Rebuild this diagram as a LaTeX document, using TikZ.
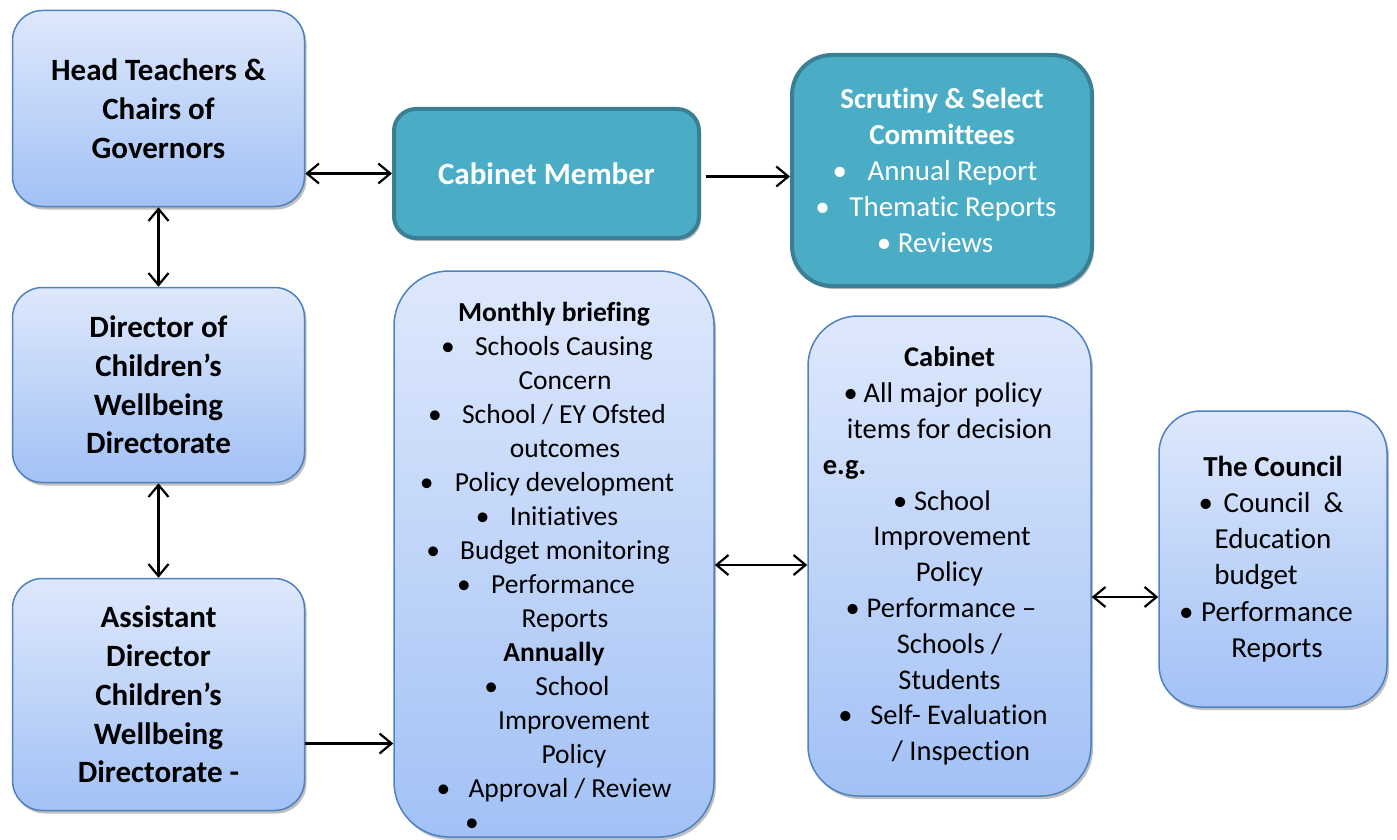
\documentclass[tikz,border=0pt]{standalone}
\usepackage{fontspec}
\setmainfont{Carlito}[Ligatures={NoCommon}]
\usetikzlibrary{arrows.meta,shadows,calc}
\definecolor{btop}{HTML}{DEE8FC}
\definecolor{bbot}{HTML}{A2C1F5}
\definecolor{bborder}{HTML}{4F81BD}
\definecolor{tealfill}{HTML}{4BACC6}
\definecolor{tealborder}{HTML}{3A7F94}
\newcommand\bt[1]{\makebox[#1][l]{\textbullet}}
\newcommand\gap[1]{\rule{#1}{0pt}}
\begin{document}
\begin{tikzpicture}[x=1pt,y=-1pt,
  bluebox/.style={draw=bborder, line width=1.5pt, top color=btop, bottom color=bbot,
    align=center, inner sep=0pt,
    drop shadow={shadow xshift=2pt,shadow yshift=-3pt,opacity=0.25,fill=black}},
  tealbox/.style={draw=tealborder, line width=4pt, fill=tealfill, text=white,
    align=center, inner sep=0pt,
    drop shadow={shadow xshift=2pt,shadow yshift=-3pt,opacity=0.25,fill=black}},
  headfont/.style={font=\bfseries\fontsize{31}{38.8}\selectfont},
  arr/.style={line width=2.2pt, -{Straight Barb[length=12pt,width=20pt]}},
  dbl/.style={line width=2.2pt, {Straight Barb[length=12pt,width=20pt]}-{Straight Barb[length=12pt,width=20pt]}}]
\useasboundingbox (0,0) rectangle (1397,840);

\node[bluebox, headfont, minimum width=292pt, minimum height=196pt, rounded corners=30pt]
  (head) at (158.5,108.5) {Head Teachers \&\\Chairs of\\Governors};
\node[bluebox, headfont, minimum width=292pt, minimum height=195pt, rounded corners=30pt]
  (dir) at (158.5,385) {Director of\\Children’s\\Wellbeing\\Directorate};
\node[bluebox, headfont, minimum width=292pt, minimum height=232pt, rounded corners=30pt]
  (asst) at (158.5,694.5) {Assistant\\Director\\Children’s\\Wellbeing\\Directorate -};

\node[tealbox, headfont, minimum width=305pt, minimum height=129pt, rounded corners=22pt]
  (cm) at (546.5,173.5) {Cabinet Member};

\node[tealbox, font=\fontsize{29}{36}\selectfont, minimum width=300pt, minimum height=231pt, rounded corners=40pt]
  (scr) at (942,170.5) {{\bfseries Scrutiny \& Select}\\
  {\bfseries Committees}\\
  \bt{35pt}Annual Report\gap{14pt}\\
  \bt{34pt}Thematic Reports\gap{12pt}\\
  \bt{21pt}Reviews\gap{14pt}};

\node[bluebox, font=\fontsize{27.5}{34}\selectfont, minimum width=320pt, minimum height=566pt, rounded corners=55pt]
  (mb) at (554,554) {\rule{0pt}{44pt}{\bfseries Monthly briefing}\\
  \bt{34pt}Schools Causing\gap{14pt}\\
  \gap{22pt}Concern\\
  \bt{34pt}School / EY Ofsted\gap{14pt}\\
  \gap{22pt}outcomes\\
  \bt{35pt}Policy development\gap{14pt}\\
  \bt{34pt}Initiatives\gap{14pt}\\
  \bt{34pt}Budget monitoring\gap{12pt}\\
  \bt{34pt}Performance\gap{16pt}\\
  \gap{22pt}Reports\\
  {\bfseries Annually}\\
  \bt{51pt}School\gap{14pt}\\
  \gap{40pt}Improvement\\
  \gap{40pt}Policy\\
  \bt{32pt}Approval / Review\\
  \bt{178pt}};

\node[bluebox, font=\fontsize{28.5}{35.8}\selectfont, minimum width=283pt, minimum height=480pt, rounded corners=50pt]
  (cab) at (949.5,556) {{\bfseries Cabinet}\\
  \bt{20pt}All major policy\gap{13pt}\\
  items for decision\\
  {\bfseries e.g.}\gap{210pt}\\
  \bt{21pt}School\gap{15pt}\\
  \gap{5pt}Improvement\\
  Policy\\
  \bt{21pt}Performance –\gap{17pt}\\
  Schools /\\
  Students\\
  \bt{32pt}Self- Evaluation\gap{13pt}\\
  \gap{23pt}/ Inspection};

\node[bluebox, font=\fontsize{29}{36.2}\selectfont, minimum width=228pt, minimum height=296pt, rounded corners=42pt]
  (council) at (1273,559) {{\bfseries The Council}\\
  \bt{25pt}Council\ \ \&\gap{4pt}\\
  Education\\
  budget\gap{34pt}\\
  \bt{22pt}Performance\gap{14pt}\\
  \gap{8pt}Reports};

\coordinate (p1) at ($(asst.east)+(0,49)$);
\coordinate (p2) at ($(mb.east)+(0,11)$);
\coordinate (p3) at ($(council.west)+(0,38)$);
\coordinate (p4) at ($(cm.east)+(5,3)$);

\draw[dbl] (head.east |- cm.west) -- (cm.west);
\draw[arr] (p4) -- (p4 -| scr.west);
\draw[dbl] (head.south) -- (dir.north);
\draw[dbl] (dir.south) -- (asst.north);
\draw[arr] (p1) -- (p1 -| mb.west);
\draw[dbl] (p2) -- (p2 -| cab.west);
\draw[dbl] (cab.east |- p3) -- (p3);
\end{tikzpicture}
\end{document}
